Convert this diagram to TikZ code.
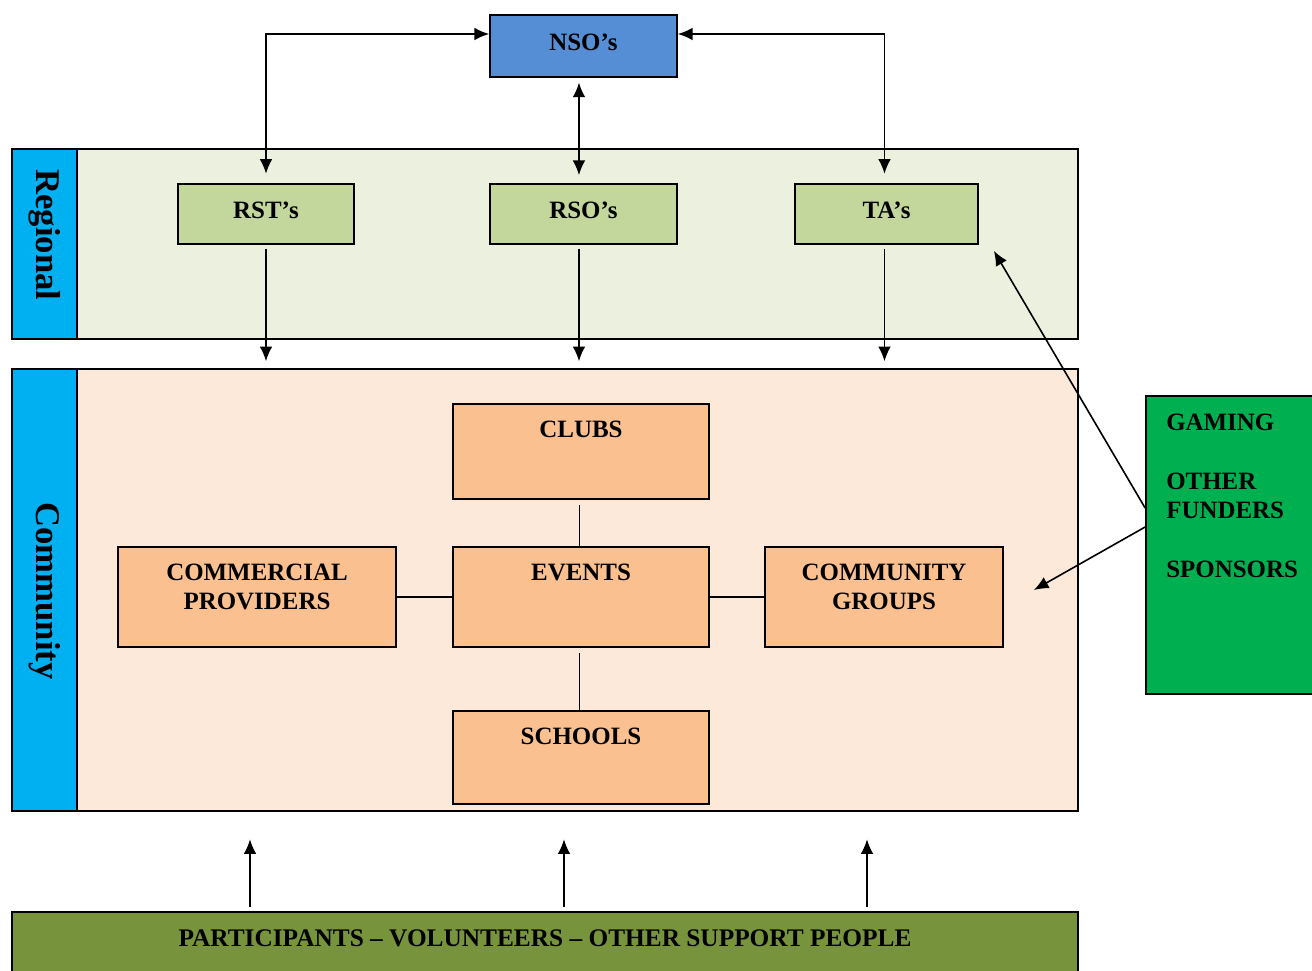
\documentclass[tikz,border=0pt]{standalone}
\usepackage{fontspec}
\setmainfont{Liberation Serif}
\usetikzlibrary{calc,arrows.meta}
\definecolor{nsoblue}{HTML}{558ED5}
\definecolor{stripblue}{HTML}{00B0F0}
\definecolor{regfill}{HTML}{EBF1DE}
\definecolor{regbox}{HTML}{C3D69B}
\definecolor{comfill}{HTML}{FDE9D9}
\definecolor{combox}{HTML}{FAC090}
\definecolor{fundgreen}{HTML}{00B050}
\definecolor{peoplegreen}{HTML}{77933C}
\tikzset{
  lbl/.style={font=\bfseries\fontsize{18.7}{22}\selectfont},
  striplbl/.style={font=\bfseries\fontsize{26}{28}\selectfont, rotate=-90},
  band/.style={draw, line width=1.1pt, inner sep=0pt},
  orgbox/.style={draw, line width=1.3pt, inner sep=0pt},
  toplbl/.style={lbl, anchor=north, align=center, inner sep=0pt, yshift=-13pt},
  arr/.style={line width=1.2pt, -{Latex[length=11pt,width=9.5pt]}},
  dblarr/.style={line width=1.2pt, {Latex[length=11pt,width=9.5pt]}-{Latex[length=11pt,width=9.5pt]}},
  link/.style={line width=1.2pt}
}
\begin{document}
\begin{tikzpicture}[x=0.75pt,y=-0.75pt]
\useasboundingbox (0,0) rectangle (1312,970);

% bands
\node[band, fill=regfill, minimum width=799.5pt, minimum height=142.5pt] (regional) at (545,244) {};
\node[band, fill=stripblue, minimum width=48.75pt, minimum height=142.5pt] (regstrip) at (44.5,244) {};
\node[striplbl] (regtext) at (44.5,235) {Regional};

\node[band, fill=comfill, minimum width=799.5pt, minimum height=331.5pt] (community) at (545,590) {};
\node[band, fill=stripblue, minimum width=48.75pt, minimum height=331.5pt] (comstrip) at (44.5,590) {};
\node[striplbl] (comtext) at (44.5,591) {Community};

\node[band, fill=peoplegreen, minimum width=799.5pt, minimum height=48pt] (people) at (545,944) {};
\node[lbl, font=\bfseries\fontsize{19}{22}\selectfont] (peopletext) at (545,938) {PARTICIPANTS -- VOLUNTEERS -- OTHER SUPPORT PEOPLE};

% national and regional bodies
\node[orgbox, fill=nsoblue, minimum width=140.25pt, minimum height=46.5pt,
  label={[toplbl, yshift=-1.75pt]north:NSO’s}] (nso) at (583.5,46) {};
\node[orgbox, fill=regbox, minimum width=132pt, minimum height=45pt,
  label={[toplbl, yshift=-1.25pt]north:RST’s}] (rst) at (266,214) {};
\node[orgbox, fill=regbox, minimum width=140.25pt, minimum height=45pt,
  label={[toplbl, yshift=-1.25pt]north:RSO’s}] (rso) at (583.5,214) {};
\node[orgbox, fill=regbox, minimum width=137.25pt, minimum height=45pt,
  label={[toplbl, yshift=-1.25pt]north:TA’s}] (ta) at (886.5,214) {};

% community boxes
\node[orgbox, fill=combox, minimum width=192pt, minimum height=71.25pt,
  label={[toplbl]north:CLUBS}] (clubs) at (581,451.5) {};
\node[orgbox, fill=combox, minimum width=192pt, minimum height=75pt,
  label={[toplbl]north:EVENTS}] (events) at (581,597) {};
\node[orgbox, fill=combox, minimum width=192pt, minimum height=69.75pt,
  label={[toplbl]north:SCHOOLS}] (schools) at (581,757.5) {};
\node[orgbox, fill=combox, minimum width=208.5pt, minimum height=75pt,
  label={[toplbl]north:COMMERCIAL\\PROVIDERS}] (commercial) at (257,597) {};
\node[orgbox, fill=combox, minimum width=178.5pt, minimum height=75pt,
  label={[toplbl]north:COMMUNITY\\GROUPS}] (cgroups) at (884,597) {};

% funders
\node[orgbox, fill=fundgreen, minimum width=126pt, minimum height=223.5pt] (funders) at (1230,545) {};
\node[lbl, anchor=north west, align=left, inner sep=0pt] (fundtext) at (1166,414)
  {GAMING\\[\baselineskip]OTHER\\FUNDERS\\[\baselineskip]SPONSORS};

% national to regional links
\draw[dblarr] ([yshift=7pt]rst.north) |- ([yshift=9pt]nso.west);
\draw[dblarr] ([xshift=-1.5pt,yshift=7pt]ta.north) |- ([yshift=9pt]nso.east);
\draw[dblarr] ([xshift=-3.4pt,yshift=-3.5pt]nso.south) -- ([xshift=-3.4pt,yshift=6pt]rso.north);

% regional to community
\foreach \n/\dx in {rst/0,rso/-3.4,ta/-1.5}
  \draw[arr] ([xshift=\dx pt,yshift=-3pt]\n.south) -- ($([xshift=\dx pt]\n.south |- community.north)+(0,-7)$);

% community links
\draw[link] ([xshift=-1pt,yshift=-4pt]clubs.south) -- ([xshift=-1pt]events.north);
\draw[link] (commercial.east) -- (events.west);
\draw[link] (events.east) -- (cgroups.west);
\draw[link] ([xshift=-1pt,yshift=-4pt]events.south) -- ([xshift=-1pt]schools.north);

% funders arrows
\draw[arr] ($(funders.west)+(0,-37)$) -- ($(ta.south east)+(15,6)$);
\draw[arr] ($(funders.west)+(0,-18)$) -- ($(cgroups.east)+(30,-7)$);

% people arrows
\foreach \dx in {-295,19,322}
  \draw[arr] ($(people.north)+(\dx,-4)$) -- ++(0,-68);
\end{tikzpicture}
\end{document}
